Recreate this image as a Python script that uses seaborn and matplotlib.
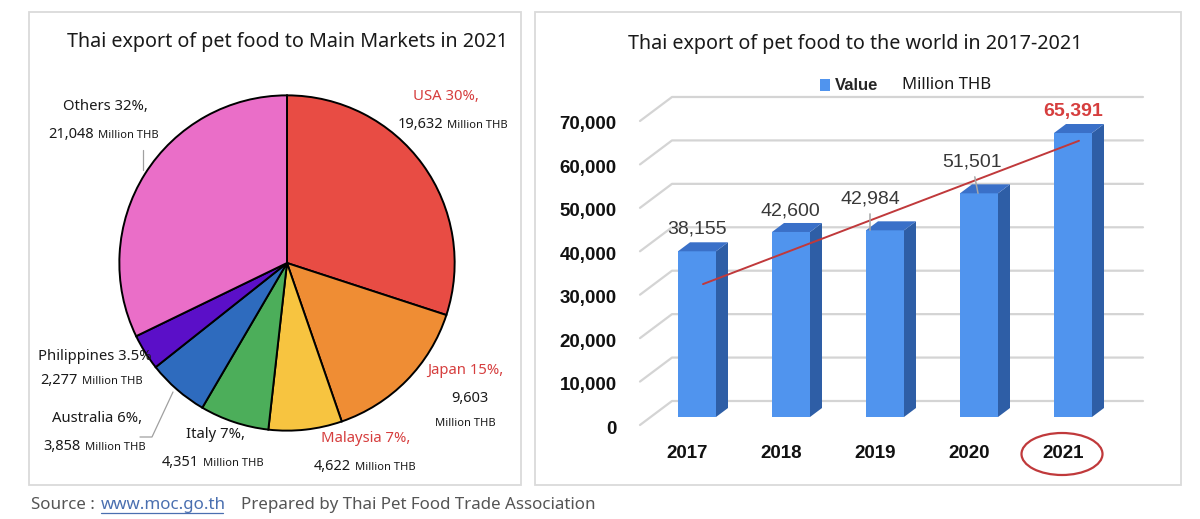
import matplotlib
matplotlib.use('Agg')
import matplotlib.pyplot as plt
import seaborn as sns
import pandas as pd
from matplotlib.patches import Polygon, Rectangle, Ellipse, Patch
from matplotlib.transforms import ScaledTranslation

# ---- data ----
markets = ['USA', 'Japan', 'Malaysia', 'Italy', 'Australia', 'Philippines', 'Others']
market_values = [19632, 9603, 4622, 4351, 3858, 2277, 21048]
market_pct = ['30%', '15%', '7%', '7%', '6%', '3.5%', '32%']
market_colors = ['#E84C44', '#EF8D34', '#F7C440', '#4CAE5A', '#2E6BBE', '#5B0FC8', '#EA6EC8']
label_suffix = [',', ',', ',', ',', ',', '', ',']
red_labels = ['USA', 'Japan', 'Malaysia']

years = ['2017', '2018', '2019', '2020', '2021']
export_values = [38155, 42600, 42984, 51501, 65391]
trend_ends = [30600, 63600]          # trendline value at 2017 and 2021
y_ticks = [0, 10000, 20000, 30000, 40000, 50000, 60000, 70000]

W, H = 1200, 519
TXT = '#1A1A1A'
RED = '#D63E3E'


def fx(x):
    return x / W


def fy(y):
    return 1 - y / H


sns.set_theme(style='white')
plt.rcParams['font.family'] = ['Noto Sans', 'DejaVu Sans']

fig = plt.figure(figsize=(12, 5.19), dpi=100)

# panel frames
for x0, x1 in [(29, 521), (535, 1181)]:
    fig.patches.append(Rectangle((fx(x0), fy(485)), fx(x1 - x0), (485 - 12) / H,
                                 transform=fig.transFigure, fill=False,
                                 edgecolor='#DADADA', lw=1.3))

# ---------------- pie ----------------
cx, cy, r = 287, 263, 171
ax_pie = fig.add_axes([fx(cx - r), fy(cy + r), 2 * r / W, 2 * r / H])
ax_pie.pie(market_values, colors=market_colors, startangle=90, counterclock=False,
           radius=1, wedgeprops=dict(edgecolor='black', linewidth=1.4))
ax_pie.set_xlim(-1.02, 1.02)
ax_pie.set_ylim(-1.02, 1.02)
ax_pie.set_aspect('auto')
ax_pie.axis('off')

fig.text(fx(287), fy(42), 'Thai export of pet food to Main Markets in 2021',
         ha='center', va='center', fontsize=14.2, color=TXT)

# label layout: title centre (x, y), number right edge x, number y
pie_layout = {
    'USA': (446, 96, 443, 124),
    'Japan': (465, 371, None, None),
    'Malaysia': (366, 439, 351, 467),
    'Italy': (215, 434, 199, 462),
    'Australia': (97, 419, 81, 447),
    'Philippines': (95, 357, 78, 381),
    'Others': (105, 106, 94, 135),
}
for m, v, p, s in zip(markets, market_values, market_pct, label_suffix):
    tx, ty, nx, ny = pie_layout[m]
    col = RED if m in red_labels else TXT
    fig.text(fx(tx), fy(ty), f'{m} {p}{s}', ha='center', va='center',
             fontsize=10.7, color=col)
    if nx is None:
        fig.text(fx(470), fy(398), f'{v:,}', ha='center', va='center', fontsize=10.5, color=TXT)
        fig.text(fx(465), fy(424), 'Million THB', ha='center', va='center', fontsize=8, color=TXT)
    else:
        fig.text(fx(nx), fy(ny), f'{v:,}', ha='right', va='center', fontsize=10.5, color=TXT)
        fig.text(fx(nx + 4), fy(ny + 1), 'Million THB', ha='left', va='center', fontsize=8, color=TXT)

# leader lines
fig.add_artist(plt.Line2D([fx(143), fx(143)], [fy(150), fy(170)], color='#A0A0A0', lw=0.9))
fig.add_artist(plt.Line2D([fx(140), fx(152), fx(173)], [fy(437), fy(437), fy(392)],
                          color='#A0A0A0', lw=0.9))

# ---------------- bars ----------------
left_px, bot_px, top_px, right_px = 625, 417, 90, 1160
c0, step = 697, 94.0
ax = fig.add_axes([fx(left_px), fy(bot_px), (right_px - left_px) / W, (bot_px - top_px) / H])
ypp = 1 / 0.004343                      # value units per pixel
xpp = 1 / step                          # category units per pixel

df = pd.DataFrame({'year': years, 'value': export_values})
sns.barplot(data=df, x='year', y='value', color='#5094EE', saturation=1,
            width=38 / step, linewidth=0, ax=ax, zorder=3)
ax.set_xlim((left_px - c0) * xpp, (right_px - c0) * xpp)
ax.set_ylim(0, (bot_px - top_px) * ypp)

# fake 3D faces
ddx, ddy = 12 * xpp, 9 * ypp
for p in ax.patches[:len(years)]:
    x0, w, h = p.get_x(), p.get_width(), p.get_height()
    ax.add_patch(Polygon([(x0 + w, 0), (x0 + w + ddx, ddy), (x0 + w + ddx, h + ddy), (x0 + w, h)],
                         closed=True, facecolor='#2E5EA6', edgecolor='none', zorder=3))
    ax.add_patch(Polygon([(x0, h), (x0 + w, h), (x0 + w + ddx, h + ddy), (x0 + ddx, h + ddy)],
                         closed=True, facecolor='#3A70C8', edgecolor='none', zorder=3))

# back wall gridlines + floor diagonals
gx0, gx1, gxd = (672 - c0) * xpp, (1143 - c0) * xpp, (640 - c0) * xpp
for v in y_ticks:
    ax.plot([gxd, gx0, gx1], [v - 8 * ypp, v + 16 * ypp, v + 16 * ypp],
            color='#D4D4D4', lw=1.6, zorder=1, clip_on=False)

# trendline
tr = ScaledTranslation(6 / 100, 0, fig.dpi_scale_trans)
ax.plot([0, len(years) - 1], trend_ends, color='#C0393B', lw=1.4, zorder=5,
        transform=ax.transData + tr)

# value labels: (text dx px from bar centre, dy px above bar top, leader end dx px or None)
lab_layout = [(0, 22, None), (-1, 21, None), (-15, 31, -15), (-7, 31, -1), (0, 22, None)]
for i, (v, (dx, dy, lead)) in enumerate(zip(export_values, lab_layout)):
    col = RED if i == len(years) - 1 else '#383838'
    wt = 'bold' if i == len(years) - 1 else 'normal'
    if lead is not None:
        ax.annotate(f'{v:,}', xy=(i + lead * xpp, v), xytext=(dx - lead, dy),
                    textcoords='offset pixels', ha='center', va='center',
                    fontsize=14, color=col, family='Liberation Sans', fontweight=wt,
                    arrowprops=dict(arrowstyle='-', color='#A6A6A6', lw=1.1,
                                    shrinkA=2, shrinkB=0), zorder=6)
    else:
        ax.annotate(f'{v:,}', xy=(i + dx * xpp, v), xytext=(0, dy),
                    textcoords='offset pixels', ha='center', va='center',
                    fontsize=14, color=col, family='Liberation Sans', fontweight=wt, zorder=6)

ax.set_yticks(y_ticks)
ax.set_yticklabels([f'{t:,}' for t in y_ticks], fontsize=13.5, fontweight='bold',
                   family='Liberation Sans', color='#111111')
ax.set_xticks(range(len(years)))
ax.set_xticklabels(years, fontsize=13.5, fontweight='bold', family='Liberation Sans',
                   color='#111111')
ax.tick_params(axis='y', length=0, pad=6)
ax.tick_params(axis='x', length=0, pad=20.5)
for lab in ax.get_yticklabels():
    lab.set_transform(lab.get_transform() + ScaledTranslation(0, -10 / 100, fig.dpi_scale_trans))
for lab in ax.get_xticklabels():
    lab.set_transform(lab.get_transform() + ScaledTranslation(-10 / 100, 0, fig.dpi_scale_trans))
ax.set_xlabel('')
ax.set_ylabel('')
ax.grid(False)
for s in ax.spines.values():
    s.set_visible(False)
ax.patch.set_alpha(0)

# red circle on 2021
fig.patches.append(Ellipse((fx(1062), fy(454)), 81 / W, 42 / H, transform=fig.transFigure,
                           fill=False, edgecolor='#C0393B', lw=1.6))

# legend
leg = ax.legend(handles=[Patch(facecolor='#5094EE', edgecolor='none')], labels=['Value'],
                loc='center left', bbox_to_anchor=(fx(812), fy(86)),
                bbox_transform=fig.transFigure, frameon=False, handlelength=0.6,
                handleheight=0.75, handletextpad=0.3, borderpad=0,
                prop=dict(family='Liberation Sans', weight='bold', size=12))
fig.text(fx(902), fy(85), 'Million THB', ha='left', va='center', fontsize=12, color=TXT)

fig.text(fx(855), fy(44), 'Thai export of pet food to the world in 2017-2021',
         ha='center', va='center', fontsize=14.2, color=TXT)

# source line
fig.text(fx(31), fy(505), 'Source :', ha='left', va='center', fontsize=12.2, color='#555555')
fig.text(fx(101), fy(505), 'www.moc.go.th', ha='left', va='center', fontsize=12.2, color='#4A6FB0')
fig.add_artist(plt.Line2D([fx(101), fx(223)], [fy(513), fy(513)], color='#4A6FB0', lw=0.9))
fig.text(fx(241), fy(505), 'Prepared by Thai Pet Food Trade Association', ha='left',
         va='center', fontsize=12.2, color='#555555')

fig.savefig('out.png', dpi=100)
